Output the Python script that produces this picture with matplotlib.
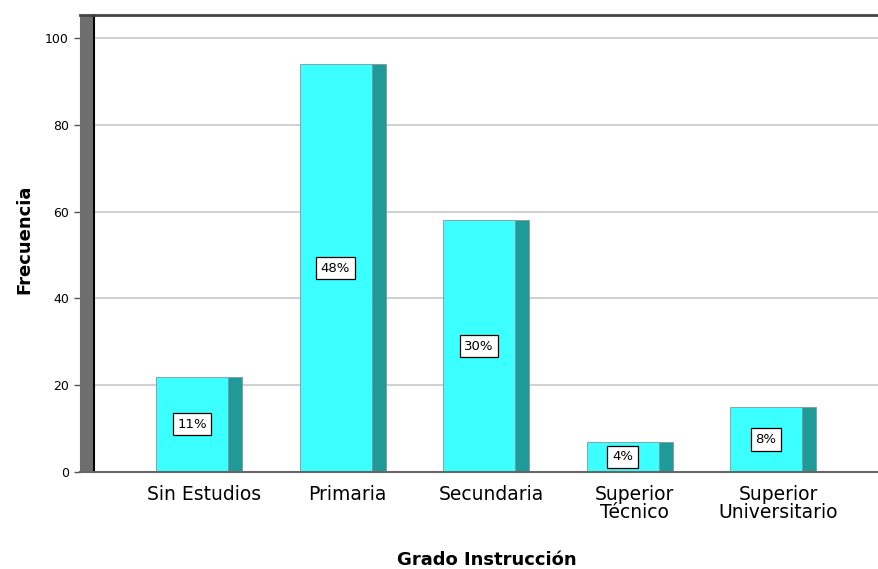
import matplotlib.pyplot as plt
from matplotlib.patches import Rectangle
from matplotlib.transforms import ScaledTranslation

plt.rcParams['font.family'] = ['DejaVu Sans']

# frequencies per education level
categories = ["Sin Estudios", "Primaria", "Secundaria", "Superior\nTécnico", "Superior\nUniversitario"]
frequencies = [22, 94, 58, 7, 15]
percent_labels = ["11%", "48%", "30%", "4%", "8%"]
y_ticks = [0, 20, 40, 60, 80, 100]

W, H, dpi = 879, 569, 100
front_color = "#3CFFFF"
side_color = "#1F9A98"
bar_width = 0.502
side_depth = 0.0976
wall_px = 14

fig = plt.figure(figsize=(W / dpi, H / dpi), dpi=dpi)
ax = fig.add_axes([94 / W, 1 - 472 / H, (W - 94) / W, (472 - 15) / H])
ax.set_xlim(-0.683, 4.787)
ax.set_ylim(0, 105.3)

# gridlines behind the bars
for t in y_ticks[1:]:
    ax.axhline(t, color="#C8C8C8", linewidth=1.2, zorder=0)

# bars: front face plus darker side face for the 3d look
for i, v in enumerate(frequencies):
    ax.add_patch(Rectangle((i - bar_width / 2, 0), bar_width, v, facecolor=front_color,
                           edgecolor="#7a9a9a", linewidth=0.6, zorder=2))
    ax.add_patch(Rectangle((i + bar_width / 2, 0), side_depth, v, facecolor=side_color,
                           edgecolor="#7a9a9a", linewidth=0.6, zorder=2))
    ax.text(i, v / 2, percent_labels[i], ha="center", va="center", fontsize=9.5, zorder=3,
            bbox=dict(boxstyle="square,pad=0.35", facecolor="white", edgecolor="black", linewidth=0.9))

# grey side wall on the left
wall_w = wall_px / (W - 94)
ax.add_patch(Rectangle((-wall_w, 0), wall_w, 1, transform=ax.transAxes, facecolor="#6E6E6E",
                       edgecolor="none", clip_on=False, zorder=1))
ax.plot([0, 0], [0, 1], transform=ax.transAxes, color="black", linewidth=1.5, clip_on=False, zorder=4)
ax.plot([-wall_w, 1], [1, 1], transform=ax.transAxes, color="#444444", linewidth=2, clip_on=False, zorder=4)
ax.plot([-wall_w, 1], [0, 0], transform=ax.transAxes, color="#666666", linewidth=1.5, clip_on=False, zorder=4)

for s in ["top", "right", "bottom"]:
    ax.spines[s].set_visible(False)
ax.spines["left"].set_position(("outward", wall_px * 72 / dpi))
ax.spines["left"].set_color("#6E6E6E")

ax.set_yticks(y_ticks)
ax.tick_params(axis="y", length=4, width=1, color="#555555", labelsize=9, pad=4)
ax.set_xticks(range(len(categories)))
ax.set_xticklabels(categories, fontsize=13.5, linespacing=1.0)
ax.tick_params(axis="x", length=0, pad=9)
shift = ScaledTranslation(12 / dpi, 0, fig.dpi_scale_trans)
for lbl in ax.get_xticklabels():
    lbl.set_transform(lbl.get_transform() + shift)

# axis titles placed in figure coordinates
fig.text(24 / W, 1 - 239 / H, "Frecuencia", fontsize=13, fontweight="bold",
         rotation=90, ha="center", va="center")
fig.text(487 / W, 1 - 565 / H, "Grado Instrucción", fontsize=13, fontweight="bold",
         ha="center", va="baseline")

fig.savefig("out.png", dpi=dpi)
